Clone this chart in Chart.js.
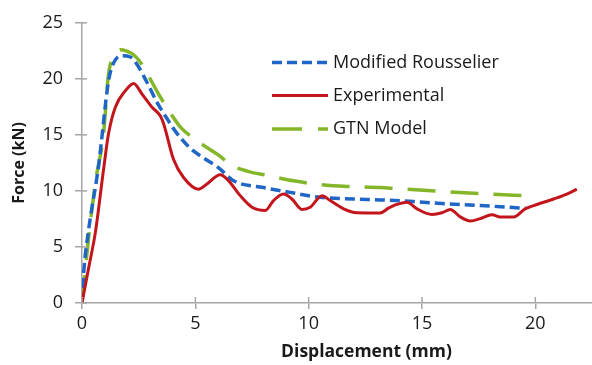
<!DOCTYPE html>
<html>
<head>
<meta charset="utf-8">
<script src="https://cdn.jsdelivr.net/npm/chart.js@4"></script>
<style>
  html, body { margin: 0; padding: 0; background: #ffffff; }
  #wrap { width: 592px; height: 365px; }
</style>
</head>
<body>
<div id="wrap"><canvas id="c" width="592" height="365"></canvas></div>
<script>
// ---- Data ----
const seriesNames = ["Modified Rousselier", "Experimental", "GTN Model"];

const rousselierX = [0, 0.07, 0.29, 0.73, 1.17, 1.39, 1.76, 2.13, 2.43, 2.87, 3.31, 3.75, 4.19, 4.78, 5.36, 6.03, 6.69, 8.01, 9.19, 10.51, 11.98, 13.16, 14.63, 16.1, 17.57, 19.48, 19.6];
const rousselierY = [0, 2.6, 6.5, 12.2, 19.8, 21.4, 22.06, 21.95, 21.27, 19.67, 17.9, 16.45, 15.13, 13.8, 12.94, 12.06, 10.9, 10.3, 9.87, 9.43, 9.28, 9.2, 9.05, 8.84, 8.7, 8.46, 8.45];

const experimentalX = [0, 0.3, 0.59, 0.95, 1.17, 1.47, 1.91, 2.28, 2.65, 3.09, 3.45, 3.6, 4.04, 4.48, 5.14, 5.5, 6.1, 6.47, 6.98, 7.5, 8.09, 8.45, 8.89, 9.26, 9.7, 10.07, 10.59, 10.95, 11.54, 12.13, 13.16, 13.52, 13.82, 14.34, 14.78, 15.44, 15.88, 16.25, 16.69, 17.13, 17.57, 18.09, 18.45, 19.04, 19.55, 20.07, 20.8, 21.39, 21.83];
const experimentalY = [0, 3.2, 6.3, 11.9, 15.1, 17.47, 18.93, 19.58, 18.64, 17.47, 16.7, 16.0, 12.8, 11.2, 10.16, 10.6, 11.45, 10.9, 9.58, 8.55, 8.26, 9.14, 9.72, 9.28, 8.35, 8.55, 9.58, 9.14, 8.4, 8.05, 8.03, 8.46, 8.75, 9.0, 8.4, 7.9, 8.05, 8.35, 7.68, 7.32, 7.53, 7.88, 7.68, 7.68, 8.4, 8.79, 9.28, 9.72, 10.16];

const gtnX = [0, 0.29, 0.59, 0.95, 1.17, 1.47, 1.69, 1.95, 2.28, 2.65, 2.94, 3.38, 3.82, 4.34, 4.92, 5.66, 6.1, 6.54, 7.28, 8.31, 9.33, 10.37, 11.69, 13.16, 13.9, 16.1, 18.0, 19.55];
const gtnY = [0, 5.8, 10.75, 15.1, 20.4, 22.15, 22.6, 22.5, 22.15, 21.27, 20.25, 18.64, 17.2, 15.7, 14.7, 13.67, 13.09, 12.35, 11.77, 11.33, 10.9, 10.6, 10.4, 10.3, 10.2, 9.93, 9.72, 9.58];

const xTicksStep = 5, xMin = 0, xMax = 22.5;
const yTicksStep = 5, yMin = 0, yMax = 25;
const xAxisTitle = "Displacement (mm)";
const yAxisTitle = "Force (kN)";

// ---- Styles ----
const FONT = "'Open Sans', 'DejaVu Sans', sans-serif";
const TEXT = "#1a1a1a";
const AXIS = "#a6a6a6";

function pts(xs, ys) { return xs.map((x, i) => ({ x: x, y: ys[i] })); }

const datasets = [
  { label: seriesNames[0], data: pts(rousselierX, rousselierY), borderColor: "#1f66c6", borderWidth: 3.5, borderDash: [10, 5], order: 2 },
  { label: seriesNames[1], data: pts(experimentalX, experimentalY), borderColor: "#c3161c", borderWidth: 3, borderDash: [], order: 1 },
  { label: seriesNames[2], data: pts(gtnX, gtnY), borderColor: "#84b629", borderWidth: 3.5, borderDash: [28, 15], order: 3 }
].map(d => Object.assign(d, { fill: false, pointRadius: 0, cubicInterpolationMode: 'monotone', borderCapStyle: 'butt' }));

// crossing ticks + x title + in-plot legend
const extras = {
  id: 'extras',
  afterDraw(chart) {
    const ctx = chart.ctx, xs = chart.scales.x, ys = chart.scales.y;
    ctx.save();
    ctx.strokeStyle = AXIS; ctx.lineWidth = 1.5;
    ys.ticks.forEach(t => {
      const y = ys.getPixelForValue(t.value);
      ctx.beginPath(); ctx.moveTo(xs.left, y); ctx.lineTo(xs.left + 5, y); ctx.stroke();
    });
    xs.ticks.forEach(t => {
      const x = xs.getPixelForValue(t.value);
      ctx.beginPath(); ctx.moveTo(x, ys.bottom); ctx.lineTo(x, ys.bottom - 6); ctx.stroke();
    });
    // x axis title
    ctx.fillStyle = TEXT;
    ctx.font = "bold 17.5px " + FONT;
    ctx.textAlign = 'center'; ctx.textBaseline = 'middle';
    ctx.fillText(xAxisTitle, xs.getPixelForValue(12.55), 352);
    // legend
    const rows = [62.5, 95.5, 129];
    const legendOrder = [0, 1, 2];
    legendOrder.forEach((di, i) => {
      const ds = chart.data.datasets[di];
      const y = rows[i];
      ctx.save();
      ctx.strokeStyle = ds.borderColor; ctx.lineWidth = ds.borderWidth;
      ctx.setLineDash(di === 2 ? [30, 16] : (ds.borderDash || []));
      ctx.lineCap = 'butt';
      ctx.beginPath(); ctx.moveTo(272, y); ctx.lineTo(328, y); ctx.stroke();
      ctx.restore();
      ctx.fillStyle = TEXT;
      ctx.font = "18px " + FONT;
      ctx.textAlign = 'left'; ctx.textBaseline = 'middle';
      ctx.fillText(ds.label, 333, y);
    });
    ctx.restore();
  }
};

new Chart(document.getElementById('c'), {
  type: 'line',
  data: { datasets: datasets },
  plugins: [extras],
  options: {
    responsive: false,
    animation: false,
    layout: { padding: { top: 17, right: 0, left: 0, bottom: 0 } },
    plugins: { legend: { display: false }, tooltip: { enabled: false } },
    scales: {
      x: {
        type: 'linear', min: xMin, max: xMax,
        border: { color: AXIS, width: 1.5 },
        grid: { drawOnChartArea: false, color: AXIS, lineWidth: 1.5, tickLength: 6 },
        ticks: { stepSize: xTicksStep, includeBounds: false, padding: 4, color: TEXT, font: { family: FONT, size: 18 } },
        afterFit: s => { s.height = 62; }
      },
      y: {
        type: 'linear', min: yMin, max: yMax,
        border: { color: AXIS, width: 1.5 },
        grid: { drawOnChartArea: false, color: AXIS, lineWidth: 1.5, tickLength: 7 },
        ticks: { stepSize: yTicksStep, padding: 12, color: TEXT, font: { family: FONT, size: 18 } },
        title: { display: true, text: yAxisTitle, color: TEXT, font: { family: FONT, size: 16, weight: 'bold' }, padding: { top: 10, bottom: 0 } },
        afterFit: s => { s.width = 82; }
      }
    }
  }
});
</script>
</body>
</html>
